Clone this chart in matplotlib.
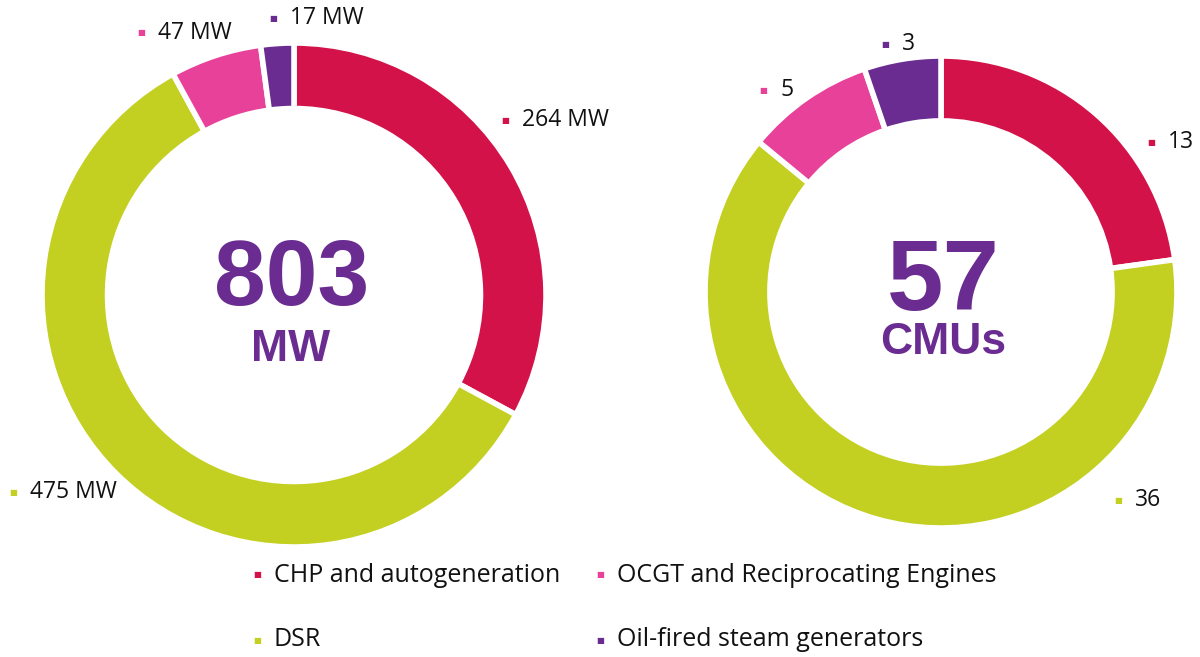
import matplotlib.pyplot as plt

categories = ["CHP and autogeneration", "DSR", "OCGT and Reciprocating Engines", "Oil-fired steam generators"]
capacity_mw = [264, 475, 47, 17]
cmu_count = [13, 36, 5, 3]
colors = ["#D4124A", "#C3D022", "#E8419A", "#6A2C91"]

W, H = 1200, 657
fig = plt.figure(figsize=(W / 100, H / 100), dpi=100)
label_font = "Open Sans"


def px_axes(cx, cy, r):
    # cx, cy from top-left in pixels
    return fig.add_axes([(cx - r) / W, (H - cy - r) / H, 2 * r / W, 2 * r / H])


def ftext(x, y, s, **kw):
    fig.text(x / W, 1 - y / H, s, **kw)


def marker_label(x, y, s, color, size=16.5):
    ftext(x, y, "\u25a0", color=color, fontsize=6, ha="center", va="center")
    ftext(x + 17, y, s, color="#111111", fontsize=size, ha="left", va="center",
          family=label_font)


# left donut: capacity
ax1 = px_axes(294, 295, 252)
ax1.pie(capacity_mw, colors=colors, startangle=90, counterclock=False,
        wedgeprops=dict(width=0.26, edgecolor="white", linewidth=4))
ax1.set_xlim(-1, 1)
ax1.set_ylim(-1, 1)
ax1.axis("off")

# right donut: CMUs
ax2 = px_axes(941, 292, 236)
ax2.pie(cmu_count, colors=colors, startangle=90, counterclock=False,
        wedgeprops=dict(width=0.275, edgecolor="white", linewidth=4))
ax2.set_xlim(-1, 1)
ax2.set_ylim(-1, 1)
ax2.axis("off")

# centre numbers (baseline placed)
purple = "#6A2C91"
bold = dict(color=purple, fontweight="bold", ha="center", va="baseline",
            family="Liberation Sans")
ftext(292, 305, str(sum(capacity_mw)), fontsize=67, **bold)
ftext(291, 361, "MW", fontsize=32, **bold)
ftext(943, 310, str(sum(cmu_count)), fontsize=73, **bold)
ftext(943, 354, "CMUs", fontsize=32, **bold)

# data labels
left_pos = [(505, 120), (13, 492), (141, 33), (273, 18)]
right_pos = [(1151, 142), (1118, 500), (763, 90), (885, 44)]
for (x, y), v, c in zip(left_pos, capacity_mw, colors):
    marker_label(x, y, f"{v} MW", c)
for (x, y), v, c in zip(right_pos, cmu_count, colors):
    marker_label(x, y, str(v), c)

# legend
legend_pos = [(257, 575), (257, 640), (600, 575), (600, 640)]
for (x, y), name, c in zip(legend_pos, categories, colors):
    marker_label(x, y, name, c, size=18)

fig.savefig("out.png", dpi=100)
